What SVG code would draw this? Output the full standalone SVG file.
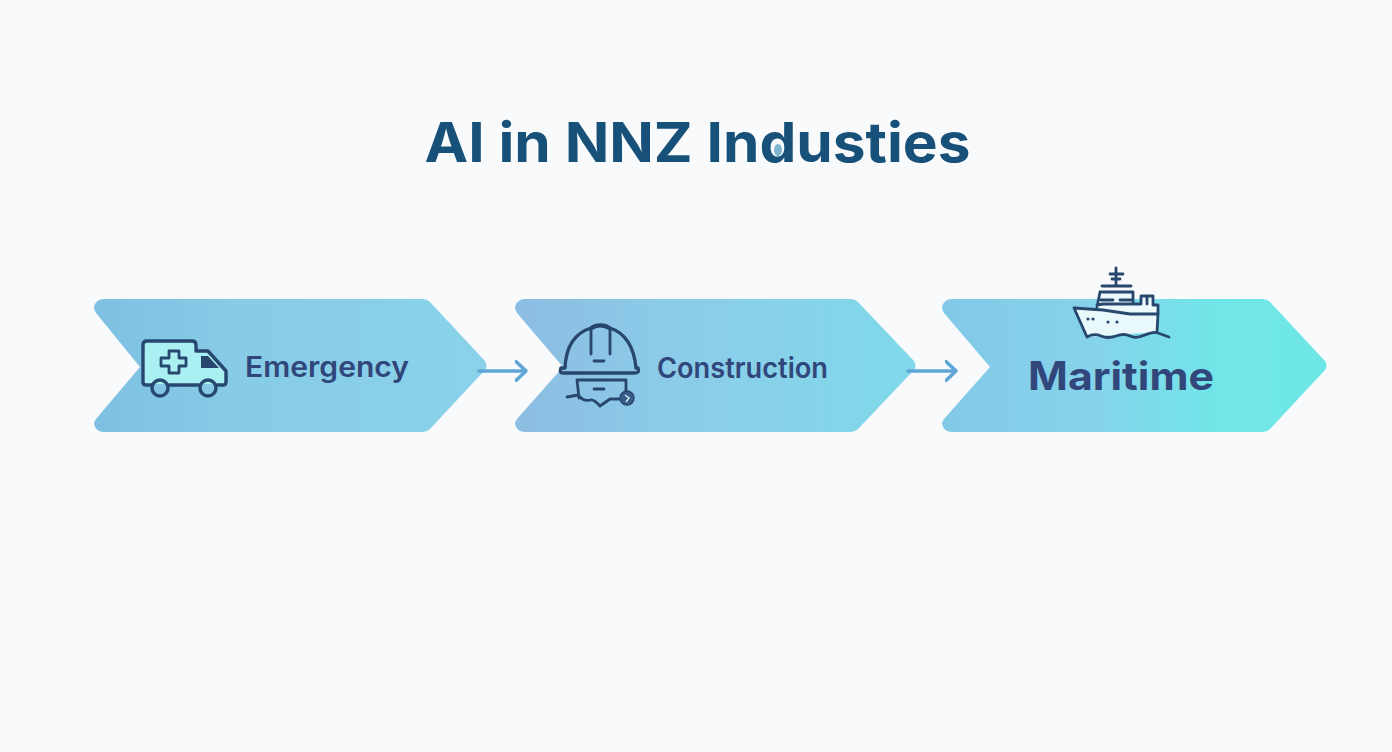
<svg xmlns="http://www.w3.org/2000/svg" width="1392" height="752" viewBox="0 0 1392 752">
<defs>
<linearGradient id="g1" x1="0" y1="0" x2="1" y2="0"><stop offset="0" stop-color="#7fc0e2"/><stop offset="0.35" stop-color="#87cbe7"/><stop offset="1" stop-color="#8ad2ea"/></linearGradient>
<linearGradient id="g2" x1="0" y1="0" x2="1" y2="0"><stop offset="0" stop-color="#8cbde2"/><stop offset="0.4" stop-color="#8ccce9"/><stop offset="1" stop-color="#80d9ea"/></linearGradient>
<linearGradient id="g3" x1="0" y1="0" x2="1" y2="0"><stop offset="0" stop-color="#82c9e8"/><stop offset="0.4" stop-color="#85d3ea"/><stop offset="0.72" stop-color="#70e6e8"/><stop offset="1" stop-color="#6fe6e6"/></linearGradient>
<marker id="head" viewBox="0 0 12 22" refX="11" refY="11" markerWidth="12" markerHeight="22" markerUnits="userSpaceOnUse" orient="auto"><path d="M1 1.500L11 11L1 20.500" fill="none" stroke="#5fa5d6" stroke-width="3.400" stroke-linecap="round" stroke-linejoin="round"/></marker>
</defs>
<style>
.ic{fill:none;stroke:#27476f;stroke-width:3.400;stroke-linecap:round;stroke-linejoin:round}
.th{stroke-width:2.800}
.lab{font-family:Inter,"Liberation Sans",sans-serif;fill:#31467a;font-weight:600}
.conn{fill:none;stroke:#5fa5d6;stroke-width:3.400;stroke-linecap:round}
</style>
<rect width="1392" height="752" fill="#f8fafc"/>
<text id="title" x="697.500" y="162" text-anchor="middle" font-family="Inter,'Liberation Sans',sans-serif" font-size="55" font-weight="700" fill="#175079" textLength="546" lengthAdjust="spacingAndGlyphs">AI in NNZ Industies</text>
<ellipse cx="778" cy="150" rx="4" ry="6" fill="#7fb4cf"/>
<g id="node-emergency">
<path fill="url(#g1)" d="M104 299H423Q427 299 430 302L485 361Q488 366 485 370L430 429Q427 432 423 432H104Q96 432 94 424Q94 421 96 419L140 367L96 313Q94 310 94 307Q96 299 104 299Z"/>
<path d="M145 341H192Q195 341 195 344V351H207L219 364L226 371V381Q226 384 223 384H145Q143 384 143 381V343Q143 341 145 341Z" fill="#aaf0f3"/>
<path class="ic" d="M152 385H146Q143 385 143 382V345Q143 341 147 341H192Q196 341 196 345V351H208L226 371V382Q226 385 223 385H217M168 385H200"/>
<path d="M201 356H208L219 368H201Z" fill="#27476f"/>
<path class="ic th" fill="#c9f5f5" d="M169 351H179V358H186V366H179V373H169V366H161V358H169Z"/>
<circle class="ic" fill="#bdf2f4" cx="160" cy="388" r="8"/>
<circle class="ic" fill="#bdf2f4" cx="208" cy="388" r="8"/>
<text class="lab" x="245" y="377" font-size="28" textLength="164" lengthAdjust="spacingAndGlyphs">Emergency</text>
</g>
<g id="node-construction">
<path fill="url(#g2)" d="M525 299H851Q855 299 858 302L914 361Q917 366 914 370L858 429Q855 432 851 432H525Q517 432 515 424Q515 421 517 419L563 367L517 313Q515 310 515 307Q517 299 525 299Z"/>
<path class="ic" fill="#aef1f4" d="M565 368C566 345 575 333 591 328C595 324 605 324 610 328C625 333 634 347 636 368H638Q640 373 635 373H563Q559 373 561 368Z"/>
<path class="ic th" d="M591 354V329Q600 323 610 329V354"/>
<path class="ic th" d="M594 361H604M577 380L579 398M626 380V392M577 380H626M594 389H604M567 397L578 395Q584 402 590 400Q594 399 600 406L610 399H621"/>
<circle cx="627" cy="398" r="7" fill="#3a5c86" stroke="#27476f" stroke-width="1.500"/>
<path d="M625 395L629 398L626 402" fill="none" stroke="#cfeaf3" stroke-width="1.500"/>
<text class="lab" x="657" y="378" font-size="28" textLength="171" lengthAdjust="spacingAndGlyphs">Construction</text>
</g>
<g id="node-maritime">
<path fill="url(#g3)" d="M952 299H1263Q1267 299 1270 302L1325 361Q1328 366 1325 370L1270 429Q1267 432 1263 432H952Q944 432 942 424Q942 421 944 419L990 367L944 313Q942 310 942 307Q944 299 952 299Z"/>
<path d="M1074 308L1103 310L1130 314L1158 314L1157 332L1087 337Z" fill="#e8f8fb"/>
<path d="M1097 307L1100 292H1133V303H1141V296H1153V305H1158V313L1130 314L1103 310Z" fill="#edfafb"/>
<path class="ic th" d="M1116 268V285M1110 274H1123M1112 279H1120M1102 286H1131M1100 292H1133M1100 292L1097 307M1133 292V303M1101 300H1113M1120 300H1132M1097 305L1103 304H1141M1141 304V296H1153V305H1158V313M1147 297V304"/>
<path class="ic th" d="M1074 308L1103 310L1130 314H1158L1157 332M1074 308L1087 337M1087 337Q1094 333 1101 336T1116 336T1130 336T1145 335T1158 333L1169 337"/>
<g fill="#27476f"><circle cx="1088" cy="319" r="1.600"/><circle cx="1093" cy="319" r="1.600"/><circle cx="1108" cy="322" r="1.600"/><circle cx="1117" cy="322" r="1.600"/></g>
<text class="lab" x="1028" y="390" font-size="39" style="font-weight:700" textLength="186" lengthAdjust="spacingAndGlyphs">Maritime</text>
</g>
<g id="connectors">
<path class="conn" marker-end="url(#head)" d="M479 371H526"/>
<path class="conn" marker-end="url(#head)" d="M908 371H956"/>
</g>
</svg>
